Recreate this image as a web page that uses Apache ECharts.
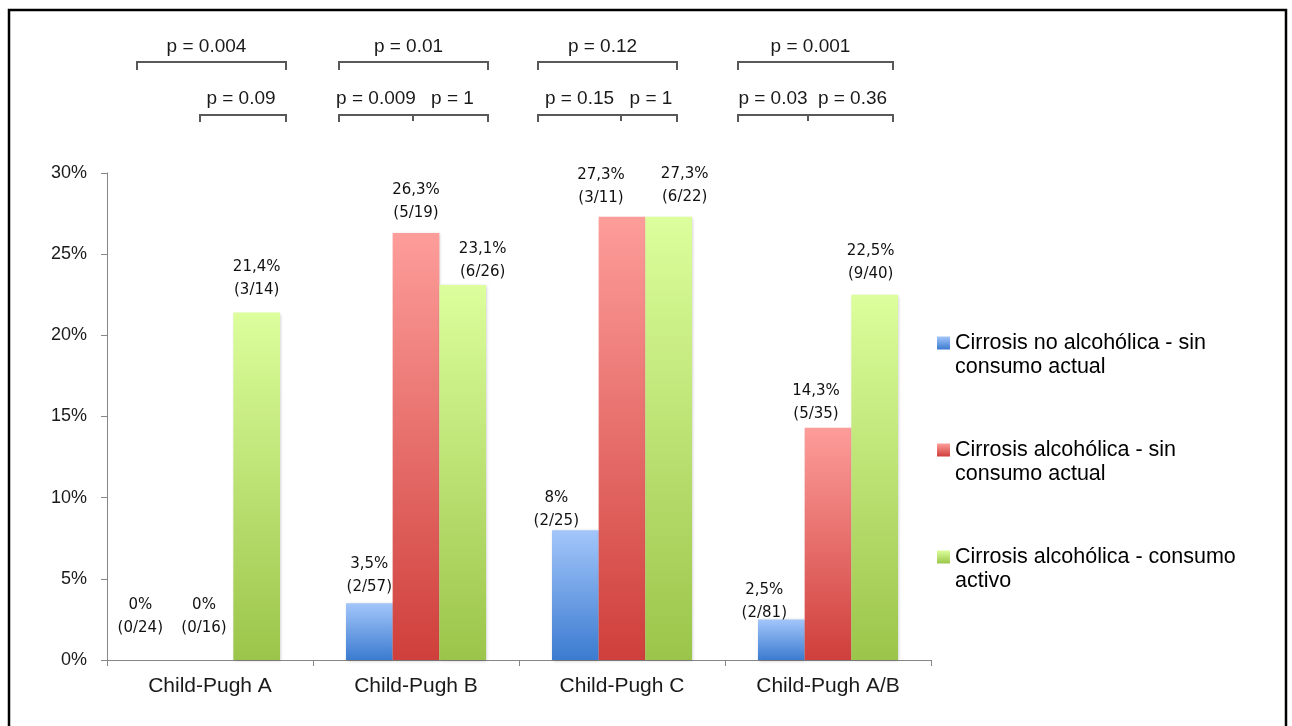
<!DOCTYPE html>
<html>
<head>
<meta charset="utf-8">
<script src="https://cdn.jsdelivr.net/npm/echarts@6/dist/echarts.min.js"></script>
<style>
  html, body { margin: 0; padding: 0; background: #fff; }
  #chart { width: 1292px; height: 726px; }
</style>
</head>
<body>
<div id="chart"></div>
<script>
// Categories and values (percent) per group
const categories = ['Child-Pugh A', 'Child-Pugh B', 'Child-Pugh C', 'Child-Pugh A/B'];
const seriesNames = [
  'Cirrosis no alcohólica - sin consumo actual',
  'Cirrosis alcohólica - sin consumo actual',
  'Cirrosis alcohólica - consumo activo'
];
const legendLabels = [
  'Cirrosis no alcohólica - sin\nconsumo actual',
  'Cirrosis alcohólica - sin\nconsumo actual',
  'Cirrosis alcohólica - consumo\nactivo'
];
const noAlcoholic = [0, 3.5, 8, 2.5];
const alcoholicAbstinent = [0, 26.3, 27.3, 14.3];
const alcoholicActive = [21.4, 23.1, 27.3, 22.5];
const noAlcoholicCounts = ['0/24', '2/57', '2/25', '2/81'];
const alcoholicAbstinentCounts = ['0/16', '5/19', '3/11', '5/35'];
const alcoholicActiveCounts = ['3/14', '6/26', '6/22', '9/40'];
const yTicks = [0, 5, 10, 15, 20, 25, 30];

// p-values shown above each group
const upperP = ['p = 0.004', 'p = 0.01', 'p = 0.12', 'p = 0.001'];
const lowerP = [['p = 0.09'], ['p = 0.009', 'p = 1'], ['p = 0.15', 'p = 1'], ['p = 0.03', 'p = 0.36']];

// Label placement tweaks (pixels): horizontal shift and height of the second line above the bar
const shiftBlue = [-23, 0, -19, -17];
const shiftRed = [-6, 0, -21, -12];
const shiftGreen = [0, 20, 16, -4];
const liftBlue = [32, 16, 9, 6];
const liftRed = [32, 20, 19, 14];
const liftGreen = [22, 13, 20, 21];

// Bracket geometry relative to each category centre (pixels)
const bracketSpan = [[-73, 76], [-77, 72], [-84, 55], [-90, 65]];
const lowerStart = [-10, -77, -84, -90];
const lowerMid = [null, -3, -1, -20];

function fmtPct(v) { return String(v).replace('.', ',') + '%'; }

function grad(top, bottom) {
  return new echarts.graphic.LinearGradient(0, 0, 0, 1, [
    { offset: 0, color: top }, { offset: 1, color: bottom }
  ]);
}

function barSeries(name, values, counts, colors, shift, lift) {
  return {
    name: name,
    type: 'bar',
    barGap: '0%',
    barCategoryGap: '32%',
    itemStyle: {
      color: grad(colors[0], colors[1]),
      shadowBlur: 3, shadowColor: 'rgba(0,0,0,0.22)', shadowOffsetX: 1, shadowOffsetY: 1
    },
    label: {
      show: true, position: 'top', distance: 0,
      fontFamily: 'DejaVu Sans', fontSize: 15, lineHeight: 23, color: '#111',
      formatter: p => fmtPct(p.value) + '\n(' + counts[p.dataIndex] + ')'
    },
    data: values.map((v, i) => ({ value: v, label: { offset: [shift[i], -(lift[i] - 11.5)] } }))
  };
}

const chart = echarts.init(document.getElementById('chart'), null, { renderer: 'canvas' });

chart.setOption({
  animation: false,
  backgroundColor: '#fff',
  grid: { left: 107, right: 361, top: 173, bottom: 66 },
  xAxis: {
    type: 'category',
    data: categories,
    axisLine: { lineStyle: { color: '#868686', width: 1 } },
    axisTick: { show: true, length: 6, lineStyle: { color: '#868686' } },
    axisLabel: { margin: 16, fontFamily: 'Liberation Sans', fontSize: 21, color: '#1a1a1a' }
  },
  yAxis: {
    type: 'value',
    min: yTicks[0], max: yTicks[yTicks.length - 1], interval: 5,
    axisLine: { show: true, lineStyle: { color: '#868686', width: 1 } },
    axisTick: { show: true, length: 6, lineStyle: { color: '#868686' } },
    splitLine: { show: false },
    axisLabel: { margin: 20, fontFamily: 'Liberation Sans', fontSize: 18, color: '#1a1a1a', formatter: '{value}%' }
  },
  legend: {
    orient: 'vertical',
    left: 937, top: 307,
    padding: 0,
    itemWidth: 13, itemHeight: 13, itemGap: 35,
    icon: 'rect',
    data: seriesNames,
    // leading blank line keeps the first text line level with the swatch
    formatter: name => '\n' + legendLabels[seriesNames.indexOf(name)],
    textStyle: { fontFamily: 'Liberation Sans', fontSize: 21.5, lineHeight: 24, color: '#000' }
  },
  series: [
    barSeries(seriesNames[0], noAlcoholic, noAlcoholicCounts, ['#a3c6fa', '#3b7bd0'], shiftBlue, liftBlue),
    barSeries(seriesNames[1], alcoholicAbstinent, alcoholicAbstinentCounts, ['#fd9d9a', '#cf3f3b'], shiftRed, liftRed),
    barSeries(seriesNames[2], alcoholicActive, alcoholicActiveCounts, ['#dcfe9c', '#9bc54a'], shiftGreen, liftGreen)
  ]
});

// Significance brackets placed from the category centres of the x axis
const centers = categories.map((c, i) => chart.convertToPixel({ xAxisIndex: 0 }, i));
const stroke = { stroke: '#595959', lineWidth: 2, fill: null };
const textFont = '19px "Liberation Sans"';
const elements = [];

function addText(str, x, y) {
  elements.push({
    type: 'text', silent: true,
    style: { text: str, x: x, y: y, align: 'center', verticalAlign: 'middle', font: textFont, fill: '#1a1a1a' }
  });
}

centers.forEach((c, i) => {
  const x0 = c + bracketSpan[i][0];
  const x1 = c + bracketSpan[i][1];
  elements.push({ type: 'polyline', silent: true, shape: { points: [[x0, 70], [x0, 62], [x1, 62], [x1, 70]] }, style: stroke });
  addText(upperP[i], (x0 + x1) / 2 - 5, 47);

  const l0 = c + lowerStart[i];
  elements.push({ type: 'polyline', silent: true, shape: { points: [[l0, 122], [l0, 115], [x1, 115], [x1, 122]] }, style: stroke });
  if (lowerMid[i] === null) {
    addText(lowerP[i][0], (l0 + x1) / 2 - 2, 99);
  } else {
    const xm = c + lowerMid[i];
    elements.push({ type: 'line', silent: true, shape: { x1: xm, y1: 115, x2: xm, y2: 121 }, style: stroke });
    addText(lowerP[i][0], (l0 + xm) / 2, 99);
    addText(lowerP[i][1], (xm + x1) / 2 + 2, 99);
  }
});

// Outer frame
elements.push({
  type: 'rect', silent: true,
  shape: { x: 9, y: 10, width: 1277, height: 760 },
  style: { fill: null, stroke: '#000', lineWidth: 2.5 }
});

chart.setOption({ graphic: { elements: elements } });
</script>
</body>
</html>
